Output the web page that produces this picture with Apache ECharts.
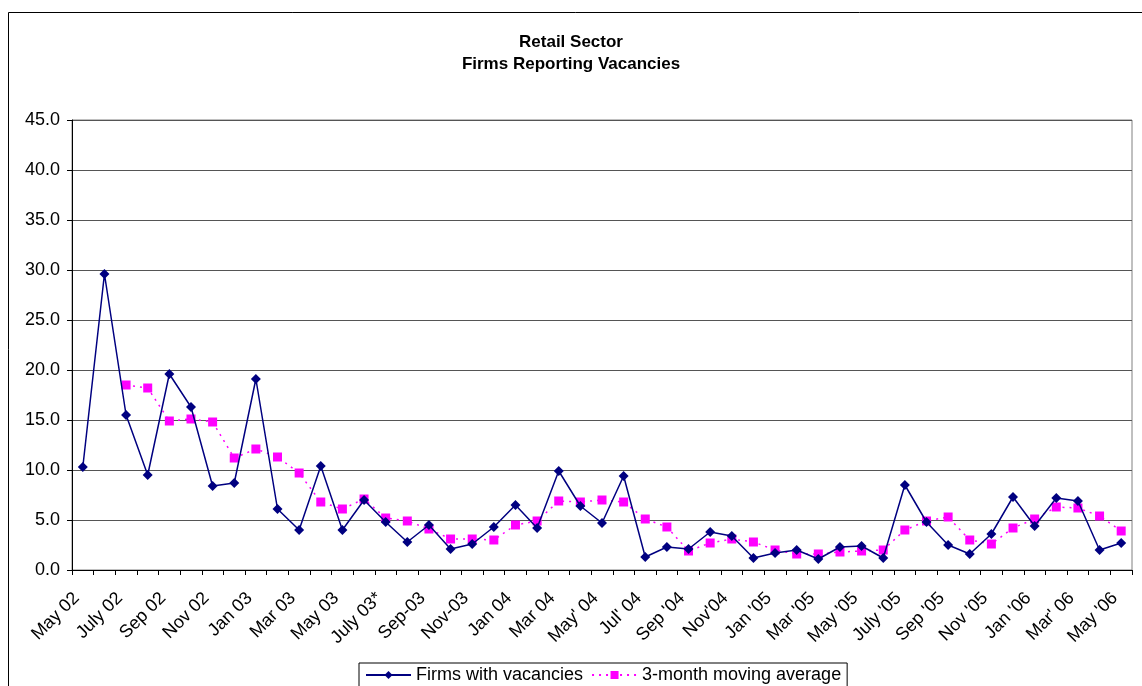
<!DOCTYPE html>
<html>
<head>
<meta charset="utf-8">
<script src="https://cdn.jsdelivr.net/npm/echarts@6/dist/echarts.min.js"></script>
<style>
html,body{margin:0;padding:0;background:#fff;}
#chart{width:1142px;height:686px;}
</style>
</head>
<body>
<div id="chart"></div>
<script>
var categories = ["May 02","Jun 02","July 02","Aug 02","Sep 02","Oct 02","Nov 02","Dec 02",
"Jan 03","Feb 03","Mar 03","Apr 03","May 03","Jun 03","July 03*","Aug 03",
"Sep-03","Oct-03","Nov-03","Dec-03","Jan 04","Feb 04","Mar 04","Apr 04",
"May' 04","Jun' 04","Jul' 04","Aug '04","Sep '04","Oct '04","Nov'04","Dec '04",
"Jan '05","Feb '05","Mar '05","Apr '05","May '05","Jun '05","July '05","Aug '05",
"Sep '05","Oct '05","Nov '05","Dec '05","Jan '06","Feb '06","Mar' 06","Apr '06","May '06"];

var firmsWithVacancies = [10.3,29.6,15.5,9.5,19.6,16.3,8.4,8.7,
19.1,6.1,4.0,10.4,4.0,7.0,4.8,2.8,
4.5,2.1,2.6,4.3,6.5,4.2,9.9,6.4,
4.7,9.4,1.3,2.3,2.1,3.8,3.4,1.2,
1.7,2.0,1.1,2.3,2.4,1.2,8.5,4.8,
2.5,1.6,3.6,7.3,4.4,7.2,6.9,2.0,2.7];

var movingAverage = [null,null,18.5,18.2,14.9,15.1,14.8,11.2,
12.1,11.3,9.7,6.8,6.1,7.1,5.2,4.9,
4.1,3.1,3.1,3.0,4.5,4.9,6.9,6.8,
7.0,6.8,5.1,4.3,1.9,2.7,3.1,2.8,
2.0,1.6,1.6,1.8,1.9,2.0,4.0,4.9,
5.3,3.0,2.6,4.2,5.1,6.3,6.2,5.4,3.9];

var yTicks = {min:0, max:45, interval:5};

var FONT = "'Liberation Sans', Arial, sans-serif";
var chart = echarts.init(document.getElementById('chart'), null, {renderer:'canvas'});
chart.setOption({
  backgroundColor:'#ffffff',
  animation:false,
  textStyle:{fontFamily:FONT},
  title:{
    text:'Retail Sector\nFirms Reporting Vacancies',
    left:'center', top:26,
    textStyle:{fontFamily:FONT, fontSize:17, fontWeight:'bold', color:'#000', lineHeight:22}
  },
  graphic:[{
    type:'rect', silent:true, z:-1,
    shape:{x:8.5, y:12.5, width:1160, height:700},
    style:{fill:null, stroke:'#000', lineWidth:1}
  }],
  legend:{
    left:359, top:663,
    padding:[3,6,8,6],
    borderColor:'#000', borderWidth:1,
    itemWidth:45, itemHeight:10, itemGap:8,
    textStyle:{fontFamily:FONT, fontSize:18, color:'#000'},
    data:['Firms with vacancies','3-month moving average']
  },
  grid:{left:72, right:10, top:120, bottom:116, show:true, borderColor:'#808080', borderWidth:1, containLabel:false},
  xAxis:{
    type:'category',
    data:categories,
    boundaryGap:true,
    axisLine:{show:true, lineStyle:{color:'#000', width:1}},
    axisTick:{show:true, interval:0, length:5, lineStyle:{color:'#000'}},
    axisLabel:{interval:1, rotate:45, fontFamily:FONT, fontSize:18, color:'#000', margin:19, padding:[0,9,0,0]},
    splitLine:{show:false}
  },
  yAxis:{
    type:'value',
    min:yTicks.min, max:yTicks.max, interval:yTicks.interval,
    axisLine:{show:true, lineStyle:{color:'#000', width:1}},
    axisTick:{show:true, length:5, lineStyle:{color:'#000'}},
    axisLabel:{fontFamily:FONT, fontSize:18, color:'#000', margin:12,
      formatter:function(v){return v.toFixed(1);}},
    splitLine:{show:true, lineStyle:{color:'#555', width:1}}
  },
  series:[{
    name:'Firms with vacancies',
    type:'line',
    data:firmsWithVacancies,
    symbol:'diamond', symbolSize:10,
    itemStyle:{color:'#000080'},
    lineStyle:{color:'#000080', width:1.5},
    z:3
  },{
    name:'3-month moving average',
    type:'line',
    data:movingAverage,
    symbol:'rect', symbolSize:9,
    connectNulls:false,
    itemStyle:{color:'#ff00ff'},
    lineStyle:{color:'#ff00ff', width:1.5, type:[2,5]},
    z:2
  }]
});
</script>
</body>
</html>
